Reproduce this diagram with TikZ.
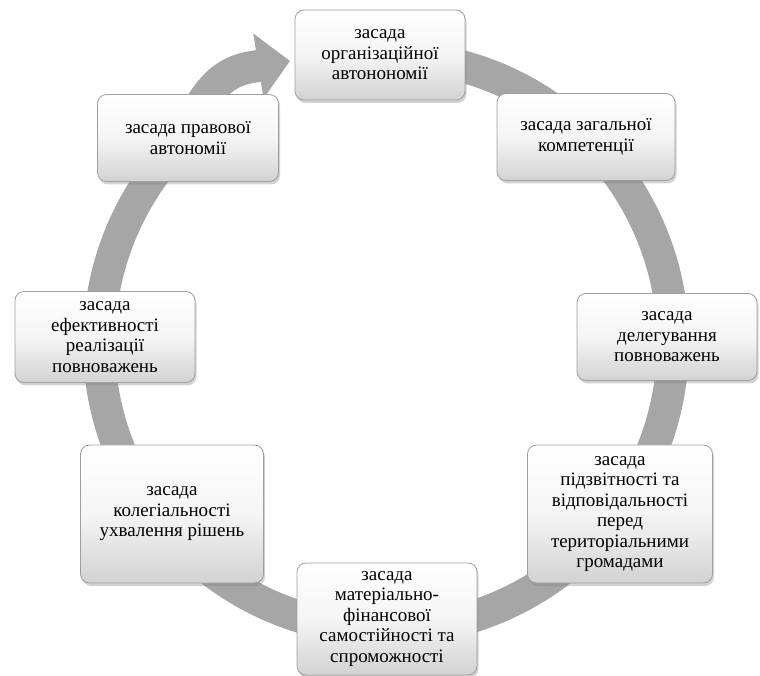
\documentclass[tikz,border=0pt]{standalone}
\usepackage{fontspec}
\setmainfont{Liberation Serif}
\usetikzlibrary{arrows.meta,shadows}

\begin{document}
\begin{tikzpicture}[x=1pt, y=1pt,
  zasada/.style={draw=gray!75, line width=0.8pt, rounded corners=9pt,
    top color=white, bottom color=gray!35, middle color=gray!8,
    drop shadow={shadow xshift=1.5pt, shadow yshift=-3pt, opacity=0.35},
    align=center, inner sep=2pt,
    font=\fontsize{19}{20.5}\selectfont}]
\useasboundingbox (0,0) rectangle (760,675);
\coordinate (ctr) at (386,332);
\coordinate (tipbase) at (252,608);
\coordinate (tip) at (290,614);
\draw[line width=32pt, color=black!35,
  -{Triangle[width=64pt, length=32pt]}]
  ([shift={(80:287pt)}]ctr) arc[start angle=80, end angle=-220, radius=287pt]
  to[out=50, in=189] (tipbase) -- (tip);
\node (org) [zasada, minimum width=170pt, minimum height=90pt] at (380,620)
  {засада\\організаційної\\автонономії};
\node (zag) [zasada, minimum width=178pt, minimum height=87pt] at (586,538)
  {засада загальної\\компетенції};
\node (del) [zasada, minimum width=180pt, minimum height=87pt] at (667,338)
  {засада\\делегування\\повноважень};
\node (pidz) [zasada, minimum width=185pt, minimum height=138pt] at (620,161)
  {засада\\підзвітності та\\відповідальності\\перед\\територіальними\\громадами};
\node (mat) [zasada, minimum width=180pt, minimum height=112pt] at (387,56)
  {засада\\матеріально-\\фінансової\\самостійності та\\спроможності};
\node (kol) [zasada, minimum width=183pt, minimum height=138pt] at (172,161)
  {засада\\колегіальності\\ухвалення рішень};
\node (efekt) [zasada, minimum width=180pt, minimum height=91pt] at (105,338)
  {засада\\ефективності\\реалізації\\повноважень};
\node (prav) [zasada, minimum width=181pt, minimum height=87pt] at (188,537)
  {засада правової\\автономії};
\end{tikzpicture}
\end{document}
